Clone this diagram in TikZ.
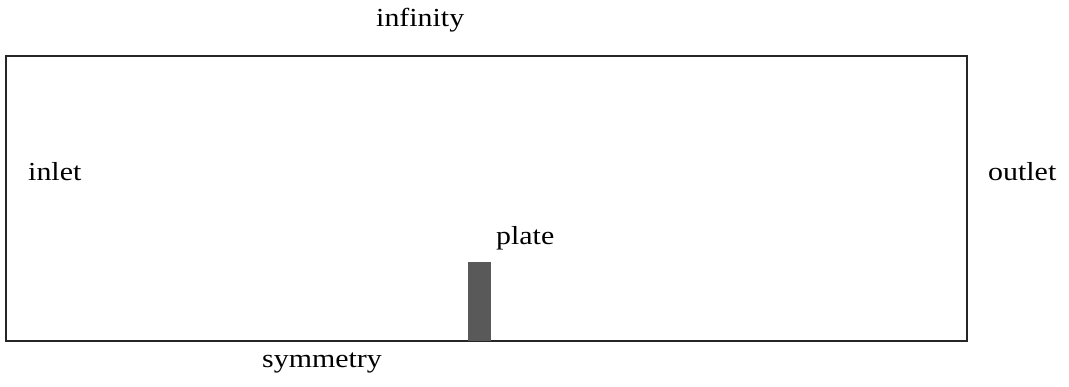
\documentclass[tikz,border=0pt]{standalone}
\usepackage{fontspec}
\setmainfont{Liberation Serif}[FakeStretch=1.15]
\usepackage{tikz}
\tikzset{
  % style for the boundary names
  bclabel/.style={inner sep=0pt,anchor=base west,font=\fontsize{26}{30}\selectfont},
  % style for the computational box outline
  flowbox/.style={draw=black!85,line width=2},
}

\begin{document}
\begin{tikzpicture}[x=1pt,y=-1pt]
\useasboundingbox (0,0) rectangle (1069,387);
\draw[flowbox] (6,56) rectangle (967,341);
\fill[black!65] (468,262) rectangle (491,341);

\node[bclabel] (infinity) at (376,27) {infinity};
\node[bclabel] (inlet) at (28,181) {inlet};
\node[bclabel] (outlet) at (988,181) {outlet};
\node[bclabel] (plate) at (496,245) {plate};
\node[bclabel] (symmetry) at (262,368) {symmetry};

\end{tikzpicture}
\end{document}
